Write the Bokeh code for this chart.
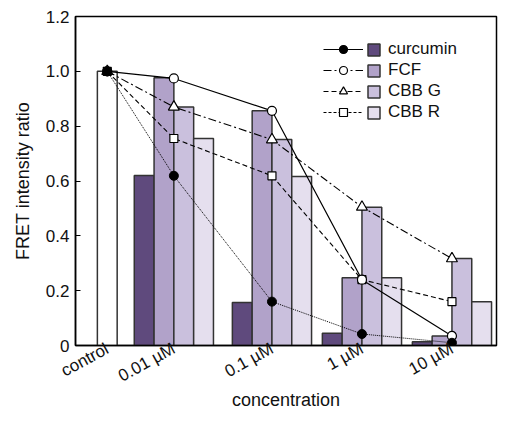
from bokeh.plotting import figure
from bokeh.models import (ColumnDataSource, FixedTicker, Legend, LegendItem, Range1d,
                          NumeralTickFormatter)
from bokeh.core.properties import value
from bokeh.transform import dodge
from bokeh.embed import file_html
from bokeh.resources import INLINE

# ---------------- data ----------------
categories = ["control", "0.01 \u00b5M", "0.1 \u00b5M", "1 \u00b5M", "10 \u00b5M"]
x_pos = [0.17, 0.91, 2.0, 3.0, 4.0]          # category positions on the x axis

series = ["curcumin", "FCF", "CBB G", "CBB R"]

control_value = [1.0]
# bars for the four concentrations (0.01, 0.1, 1, 10 uM)
bar_curcumin = [0.62, 0.157, 0.045, 0.014]
bar_fcf = [0.977, 0.856, 0.247, 0.035]
bar_cbbg = [0.870, 0.751, 0.504, 0.317]
bar_cbbr = [0.755, 0.616, 0.247, 0.160]

# line points (control, 0.01, 0.1, 1, 10 uM)
pt_curcumin = [1.0, 0.619, 0.160, 0.042, 0.010]
pt_fcf = [1.0, 0.974, 0.856, 0.240, 0.035]
pt_cbbg = [1.0, 0.870, 0.751, 0.505, 0.317]
pt_cbbr = [1.0, 0.755, 0.619, 0.240, 0.160]

y_ticks = [0, 0.2, 0.4, 0.6, 0.8, 1.0, 1.2]

# ---------------- styles ----------------
FONT = "Liberation Sans"
bar_colors = ["#5f4a7d", "#b1a2c9", "#cac0dd", "#e5dfee"]
edge = "#333333"
BW = 0.22

p = figure(width=498, height=412, output_backend="svg", toolbar_location=None,
           x_range=Range1d(-0.183, 4.495), y_range=Range1d(0, 1.2),
           min_border_left=75, min_border_right=2, min_border_top=16, min_border_bottom=66)
p.background_fill_color = "white"
p.border_fill_color = "white"
p.outline_line_color = "black"
p.outline_line_width = 1.5
p.xgrid.visible = False
p.ygrid.visible = False

# control bar
ctrl_src = ColumnDataSource(dict(x=[x_pos[0]], top=control_value))
p.vbar(x="x", top="top", width=BW, source=ctrl_src, fill_color="white",
       line_color=edge, line_width=1.5)

bar_src = ColumnDataSource(dict(x=x_pos[1:], curcumin=bar_curcumin, fcf=bar_fcf,
                                cbbg=bar_cbbg, cbbr=bar_cbbr))
bar_renderers = []
for col, off, color in zip(["curcumin", "fcf", "cbbg", "cbbr"],
                           [-1.5 * BW, -0.5 * BW, 0.5 * BW, 1.5 * BW], bar_colors):
    r = p.vbar(x=dodge("x", off, range=p.x_range), top=col, width=BW, source=bar_src,
               fill_color=color, line_color=edge, line_width=1.5)
    bar_renderers.append(r)

pt_src = ColumnDataSource(dict(x=x_pos, curcumin=pt_curcumin, fcf=pt_fcf,
                               cbbg=pt_cbbg, cbbr=pt_cbbr))

# legend samples (line + marker): legend-only renderers holding a single NaN point
nan_src = ColumnDataSource(dict(x=[float("nan")], y=[float("nan")]))
leg_styles = [("solid", "circle", "black"), ("8 3 2 3", "circle", "white"),
              ("5 3", "triangle", "white"), ("3 2", "square", "white")]
line_items = []
for (dash, mk, fill) in leg_styles:
    lr = p.line("x", "y", source=nan_src, line_color="black", line_width=1.2, line_dash=dash)
    sr = p.scatter("x", "y", source=nan_src, marker=mk, size=9, fill_color=fill,
                   line_color="black", line_width=1.2)
    line_items.append(LegendItem(label=value(" "), renderers=[lr, sr]))

# lines
p.line("x", "cbbr", source=pt_src, line_color="black", line_width=1.1, line_dash="5 3")
p.line("x", "cbbg", source=pt_src, line_color="black", line_width=1.1, line_dash="8 3 2 3")
p.line("x", "fcf", source=pt_src, line_color="black", line_width=1.2)
p.line("x", "curcumin", source=pt_src, line_color="black", line_width=1.0, line_dash="1 1")
# markers
p.scatter("x", "cbbr", source=pt_src, marker="square", size=8, fill_color="white",
          line_color="black", line_width=1.2)
p.scatter("x", "cbbg", source=pt_src, marker="triangle", size=11, fill_color="white",
          line_color="black", line_width=1.2)
p.scatter("x", "fcf", source=pt_src, marker="circle", size=9, fill_color="white",
          line_color="black", line_width=1.2)
p.scatter("x", "curcumin", source=pt_src, marker="circle", size=9, fill_color="black",
          line_color="black", line_width=1.0)

legA = Legend(items=line_items, location=(248, 223), orientation="vertical",
              glyph_width=40, glyph_height=20, label_width=0, label_standoff=0,
              label_height=20, spacing=1, padding=0, margin=0,
              border_line_color=None, background_fill_alpha=0,
              label_text_font=FONT, label_text_font_size="17px")
legB = Legend(items=[LegendItem(label=value(s), renderers=[r]) for s, r in zip(series, bar_renderers)],
              location=(291, 223), orientation="vertical",
              glyph_width=15, glyph_height=15, label_standoff=7, label_height=20,
              spacing=1, padding=0, margin=0,
              border_line_color=None, background_fill_alpha=0,
              label_text_font=FONT, label_text_font_size="17px", label_text_color="#111111")
p.add_layout(legA)
p.add_layout(legB)

# axes
p.xaxis.ticker = FixedTicker(ticks=x_pos)
p.xaxis.major_label_overrides = {x: c for x, c in zip(x_pos, categories)}
p.xaxis.major_label_orientation = 0.5
p.xaxis.major_tick_in = 0
p.xaxis.major_tick_out = 0
p.xaxis.minor_tick_line_color = None
p.xaxis.axis_label = "concentration"
p.xaxis.major_label_standoff = 2
p.xaxis.axis_label_standoff = -7

p.yaxis.ticker = FixedTicker(ticks=y_ticks)
p.yaxis.formatter = NumeralTickFormatter(format="0.0")
p.yaxis.major_label_overrides = {0: "0"}
p.yaxis.major_tick_in = 5
p.yaxis.major_tick_out = 0
p.yaxis.minor_tick_line_color = None
p.yaxis.axis_label = "FRET intensity ratio"
p.yaxis.major_label_standoff = 6
p.yaxis.axis_label_standoff = 10

for ax in (p.xaxis, p.yaxis):
    ax.axis_line_color = "black"
    ax.axis_line_width = 1.5
    ax.major_tick_line_color = "black"
    ax.major_label_text_font = FONT
    ax.major_label_text_font_size = "17px"
    ax.major_label_text_color = "#111111"
    ax.axis_label_text_font = FONT
    ax.axis_label_text_font_size = "18px"
    ax.axis_label_text_font_style = "normal"
    ax.axis_label_text_color = "#111111"

open("out.html", "w").write(file_html(p, INLINE))
